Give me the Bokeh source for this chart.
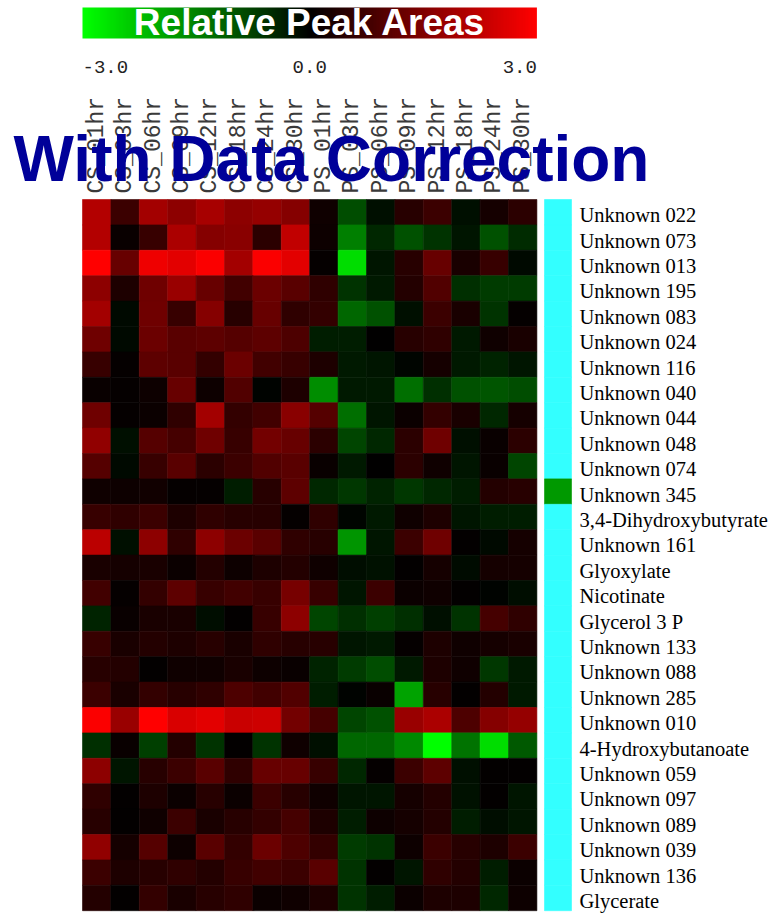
import numpy as np
from bokeh.plotting import figure
from bokeh.models import ColumnDataSource, LinearColorMapper, Range1d
from bokeh.core.properties import value
from bokeh.embed import file_html
from bokeh.resources import INLINE

# Sample columns (time points for the CS and PS series)
cs_samples = ["CS_01hr", "CS_03hr", "CS_06hr", "CS_09hr", "CS_12hr", "CS_18hr", "CS_24hr", "CS_30hr"]
ps_samples = ["PS_01hr", "PS_03hr", "PS_06hr", "PS_09hr", "PS_12hr", "PS_18hr", "PS_24hr", "PS_30hr"]

# Metabolites, top to bottom
metabolites = [
    "Unknown 022", "Unknown 073", "Unknown 013", "Unknown 195", "Unknown 083",
    "Unknown 024", "Unknown 116", "Unknown 040", "Unknown 044", "Unknown 048",
    "Unknown 074", "Unknown 345", "3,4-Dihydroxybutyrate", "Unknown 161",
    "Glyoxylate", "Nicotinate", "Glycerol 3 P", "Unknown 133", "Unknown 088",
    "Unknown 285", "Unknown 010", "4-Hydroxybutanoate", "Unknown 059",
    "Unknown 097", "Unknown 089", "Unknown 039", "Unknown 136", "Glycerate",
]

# Relative peak areas (log scale, -3 .. 3), one row per metabolite
cs_values = [
    [2.10, 0.70, 1.90, 1.65, 1.95, 1.65, 1.75, 1.55],
    [2.10, 0.10, 0.65, 2.00, 1.55, 1.60, 0.50, 2.25],
    [3.00, 1.20, 2.80, 2.65, 2.95, 1.90, 2.95, 2.65],
    [1.65, 0.35, 1.30, 1.80, 1.20, 0.75, 1.25, 1.05],
    [1.90, -0.10, 1.30, 0.65, 1.55, 0.45, 1.20, 0.55],
    [1.30, -0.10, 1.25, 1.05, 1.10, 1.00, 1.10, 0.90],
    [0.65, 0.05, 1.10, 1.05, 0.60, 1.25, 0.75, 0.65],
    [0.10, 0.05, 0.15, 1.20, 0.15, 0.95, -0.03, 0.35],
    [1.30, 0.05, 0.12, 0.55, 1.90, 0.60, 0.75, 1.60],
    [1.70, -0.18, 1.00, 0.80, 1.30, 0.65, 1.35, 1.20],
    [1.00, -0.10, 0.65, 1.05, 0.50, 0.70, 0.95, 1.05],
    [0.18, 0.15, 0.20, 0.05, 0.05, -0.35, 0.45, 1.10],
    [0.65, 0.55, 0.70, 0.35, 0.55, 0.45, 0.45, 0.05],
    [2.20, -0.18, 1.65, 0.55, 1.65, 1.25, 1.05, 0.55],
    [0.30, 0.24, 0.30, 0.12, 0.40, 0.15, 0.35, 0.40],
    [0.75, 0.05, 0.60, 1.10, 0.65, 0.75, 0.65, 1.40],
    [-0.40, 0.10, 0.30, 0.30, -0.15, 0.03, 0.65, 1.65],
    [0.65, 0.30, 0.40, 0.35, 0.45, 0.30, 0.55, 0.45],
    [0.45, 0.40, 0.03, 0.18, 0.18, 0.30, 0.15, 0.10],
    [0.70, 0.30, 0.60, 0.45, 0.55, 0.90, 0.75, 0.95],
    [2.95, 1.80, 3.00, 2.55, 2.65, 2.35, 2.40, 1.35],
    [-0.55, 0.10, -0.75, 0.40, -0.60, 0.03, -0.60, 0.18],
    [1.65, -0.24, 0.45, 0.70, 1.05, 0.55, 1.20, 1.20],
    [0.55, 0.03, 0.35, 0.12, 0.45, 0.12, 0.70, 0.45],
    [0.45, 0.03, 0.18, 0.70, 0.30, 0.45, 0.60, 0.80],
    [1.70, 0.24, 1.00, 0.15, 1.05, 0.60, 1.25, 0.90],
    [0.70, 0.35, 0.45, 0.55, 0.40, 0.65, 0.75, 0.70],
    [0.40, 0.03, 0.60, 0.30, 0.45, 0.55, 0.12, 0.18],
]
ps_values = [
    [0.18, -0.90, -0.18, 0.45, 0.70, -0.18, 0.24, 0.50],
    [0.15, -1.50, -0.45, -0.95, -0.60, -0.24, -0.95, -0.50],
    [0.05, -2.60, -0.24, 0.45, 1.20, 0.30, 0.65, -0.10],
    [0.55, -0.60, -0.30, 0.40, 0.95, -0.55, -0.70, -0.70],
    [0.60, -1.20, -0.95, -0.18, 0.70, 0.30, -0.60, 0.05],
    [-0.35, -0.35, 0.00, 0.45, 0.55, -0.30, 0.18, 0.30],
    [0.35, -0.30, -0.24, -0.05, 0.24, -0.30, -0.40, -0.24],
    [-1.65, -0.30, -0.30, -1.30, -0.55, -0.95, -1.00, -0.90],
    [1.00, -1.30, -0.24, 0.12, 0.60, 0.30, -0.45, 0.24],
    [0.50, -0.80, -0.45, 0.50, 1.30, -0.18, 0.10, 0.50],
    [0.10, -0.30, 0.00, 0.50, 0.18, -0.24, 0.10, -0.80],
    [-0.45, -0.65, -0.40, -0.65, -0.45, -0.35, 0.40, 0.45],
    [0.55, -0.05, -0.30, 0.18, 0.35, -0.24, -0.35, -0.35],
    [0.45, -1.75, -0.24, 0.70, 1.30, 0.03, -0.10, 0.24],
    [0.18, -0.15, -0.20, 0.03, 0.24, -0.12, 0.24, 0.24],
    [0.65, -0.24, 0.70, 0.12, 0.18, 0.03, -0.03, -0.15],
    [-0.80, -0.55, -0.75, -0.55, -0.18, -0.60, 0.80, 0.55],
    [0.45, -0.24, -0.30, 0.05, 0.35, 0.18, 0.24, 0.30],
    [-0.40, -0.70, -0.90, -0.30, 0.35, 0.18, -0.65, -0.30],
    [-0.35, -0.03, 0.10, -1.90, 0.45, 0.03, 0.40, -0.30],
    [0.80, -0.80, -0.95, 1.80, 2.00, 0.90, 1.55, 1.75],
    [-0.18, -1.20, -1.20, -1.60, -3.00, -1.35, -2.60, -1.05],
    [0.65, -0.45, 0.05, 0.70, 1.10, -0.18, 0.03, 0.03],
    [0.18, -0.24, -0.24, 0.24, 0.40, -0.20, 0.03, -0.24],
    [0.35, -0.35, 0.15, 0.24, 0.40, -0.35, -0.15, -0.24],
    [0.60, -0.70, -0.60, 0.15, 0.70, 0.45, 0.35, 0.70],
    [1.05, -0.60, 0.03, -0.24, 0.55, 0.40, -0.35, 0.12],
    [0.35, -0.60, -0.35, 0.12, 0.35, 0.35, -0.45, 0.15],
]

# Cluster membership shown in the side bar (0 = main cluster, 1 = outlier)
cluster_group = [0] * 11 + [1] + [0] * 16
cluster_colors = ["#33FFFF", "#009900"]

scale_ticks = [-3.0, 0.0, 3.0]

# ---------------------------------------------------------------------------
samples = cs_samples + ps_samples
n_cols = len(samples)
n_rows = len(metabolites)

# green - black - red palette
palette = []
for i in range(256):
    t = i / 255 * 2 - 1
    if t < 0:
        palette.append("#00%02x00" % int(round(-t * 255)))
    else:
        palette.append("#%02x0000" % int(round(t * 255)))
mapper = LinearColorMapper(palette=palette, low=scale_ticks[0], high=scale_ticks[-1])

# one data unit = one cell; window is 778 x 914 pixels
CELL_W, CELL_H = 28.4, 25.4
LEFT_PX, BOTTOM_PX = 82.0, 910.2
W, H = 778, 914


def dx(px):
    return (px - LEFT_PX) / CELL_W


def dy(py):
    return (BOTTOM_PX - py) / CELL_H


p = figure(width=W, height=H, output_backend="svg", toolbar_location=None,
           x_range=Range1d(dx(0), dx(W)), y_range=Range1d(dy(H), dy(0)),
           x_axis_location=None, y_axis_location=None, min_border=0)
p.grid.visible = False
p.outline_line_color = None
p.background_fill_color = "white"
p.border_fill_color = "white"

# heatmap cells
xs, ys, vs = [], [], []
for r in range(n_rows):
    row = cs_values[r] + ps_values[r]
    for c in range(n_cols):
        xs.append(c + 0.5)
        ys.append(n_rows - r - 0.5)
        vs.append(row[c])
cells = ColumnDataSource(dict(x=xs, y=ys, v=vs))
p.rect(x="x", y="y", width=1, height=1, source=cells,
       fill_color={"field": "v", "transform": mapper},
       line_color={"field": "v", "transform": mapper}, line_width=0.6)

# cluster side bar
side = ColumnDataSource(dict(
    x=[(dx(544) + dx(571)) / 2] * n_rows,
    y=[n_rows - r - 0.5 for r in range(n_rows)],
    color=[cluster_colors[g] for g in cluster_group],
))
p.rect(x="x", y="y", width=dx(571) - dx(544), height=1, source=side,
       fill_color="color", line_color="color", line_width=0.6)

# row labels
labels = ColumnDataSource(dict(
    x=[dx(579)] * n_rows,
    y=[n_rows - r - 0.5 - 0.12 for r in range(n_rows)],
    text=metabolites,
))
p.text(x="x", y="y", text="text", source=labels,
       text_font=value("Liberation Serif"), text_font_size="20.5px",
       text_color="black", text_baseline="middle", text_align="left")

# column labels, rotated
col_src = ColumnDataSource(dict(
    x=[c + 0.5 for c in range(n_cols)],
    y=[dy(193)] * n_cols,
    text=samples,
))
p.text(x="x", y="y", text="text", source=col_src, angle=np.pi / 2,
       text_font=value("Liberation Mono"), text_font_size="23px",
       text_color="#3a3a3a", text_baseline="middle", text_align="left")

# colour scale bar
grad = np.linspace(scale_ticks[0], scale_ticks[-1], 400)[None, :]
p.image(image=[grad], x=0, y=dy(38), dw=n_cols, dh=dy(7) - dy(38),
        color_mapper=mapper)
p.text(x=[n_cols / 2], y=[dy(22)], text=["Relative Peak Areas"],
       text_font=value("Liberation Sans"), text_font_style="bold",
       text_font_size="37px", text_color="white",
       text_baseline="middle", text_align="center")

# scale tick labels
tick_pos = [(t - scale_ticks[0]) / (scale_ticks[-1] - scale_ticks[0]) * n_cols for t in scale_ticks]
p.text(x=tick_pos, y=[dy(66)] * 3, text=["%.1f" % t for t in scale_ticks],
       text_align=["left", "center", "right"],
       text_font=value("Liberation Mono"), text_font_size="19px",
       text_color="#222222", text_baseline="middle")

# overlay caption
p.text(x=[dx(13)], y=[dy(158)], text=["With Data Correction"],
       text_font=value("Liberation Sans"), text_font_style="bold",
       text_font_size="64px", text_color="#000099",
       text_baseline="alphabetic", text_align="left")

open("out.html", "w").write(file_html(p, INLINE))
